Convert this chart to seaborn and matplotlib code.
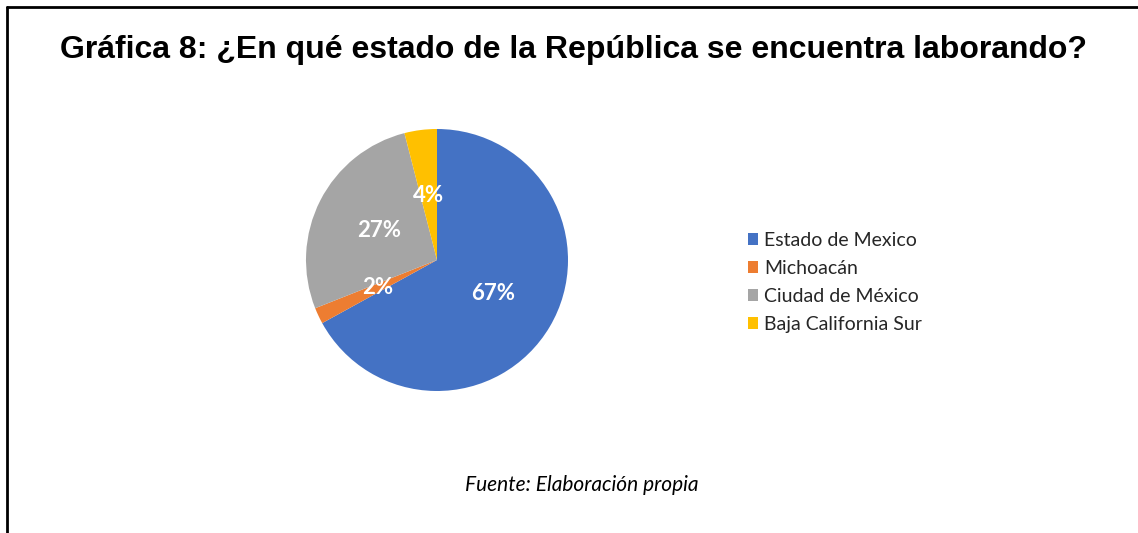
import matplotlib
matplotlib.use("Agg")
import matplotlib.pyplot as plt
import seaborn as sns
from matplotlib.lines import Line2D

sns.set_style("white")
plt.rcParams['font.family'] = ['Lato', 'DejaVu Sans']

# Data
estados = ['Estado de Mexico', 'Michoacán', 'Ciudad de México', 'Baja California Sur']
porcentajes = [67, 2, 27, 4]
colores = sns.color_palette(['#4472C4', '#ED7D31', '#A5A5A5', '#FFC000'])

titulo = 'Gráfica 8: ¿En qué estado de la República se encuentra laborando?'
fuente = 'Fuente: Elaboración propia'

W, H = 1138, 533
fig = plt.figure(figsize=(W / 100, H / 100), dpi=100)

# pie axes: center ~ (437, 260) px, radius ~131 px
cx, cy, r = 437 / W, 1 - 260 / H, 131
ax = fig.add_axes([cx - r / W, cy - r / H, 2 * r / W, 2 * r / H])
wedges, texts, autotexts = ax.pie(
    porcentajes, colors=colores, startangle=90, counterclock=False,
    autopct='%1.0f%%', pctdistance=0.5, radius=1,
    wedgeprops={'linewidth': 0},
    textprops={'color': 'white', 'fontsize': 16, 'fontweight': 'bold'})
ax.set_xlim(-1, 1)
ax.set_ylim(-1, 1)
ax.set_aspect('equal')
ax.axis('off')

fig.text(573 / W, 1 - 50 / H, titulo, ha='center', va='center', color='black',
         fontsize=23, fontweight='bold', family=['Liberation Sans', 'DejaVu Sans'])

leg = fig.legend(wedges, estados, loc='upper left', bbox_to_anchor=(738 / W, 1 - 222 / H),
                 frameon=False, fontsize=14, handlelength=0.55, handleheight=0.55,
                 handletextpad=0.3, labelspacing=0.57, borderpad=0)
for t in leg.get_texts():
    t.set_color('#262626')

fig.text(582 / W, 1 - 485 / H, fuente, ha='center', va='center', color='black',
         fontsize=15, style='italic')

# frame lines (left and top)
fig.add_artist(Line2D([7 / W, 7 / W], [0, 1 - 7 / H], color='black', lw=2,
                      transform=fig.transFigure))
fig.add_artist(Line2D([7 / W, 1], [1 - 7 / H, 1 - 7 / H], color='black', lw=2,
                      transform=fig.transFigure))

fig.savefig('out.png', dpi=100)
